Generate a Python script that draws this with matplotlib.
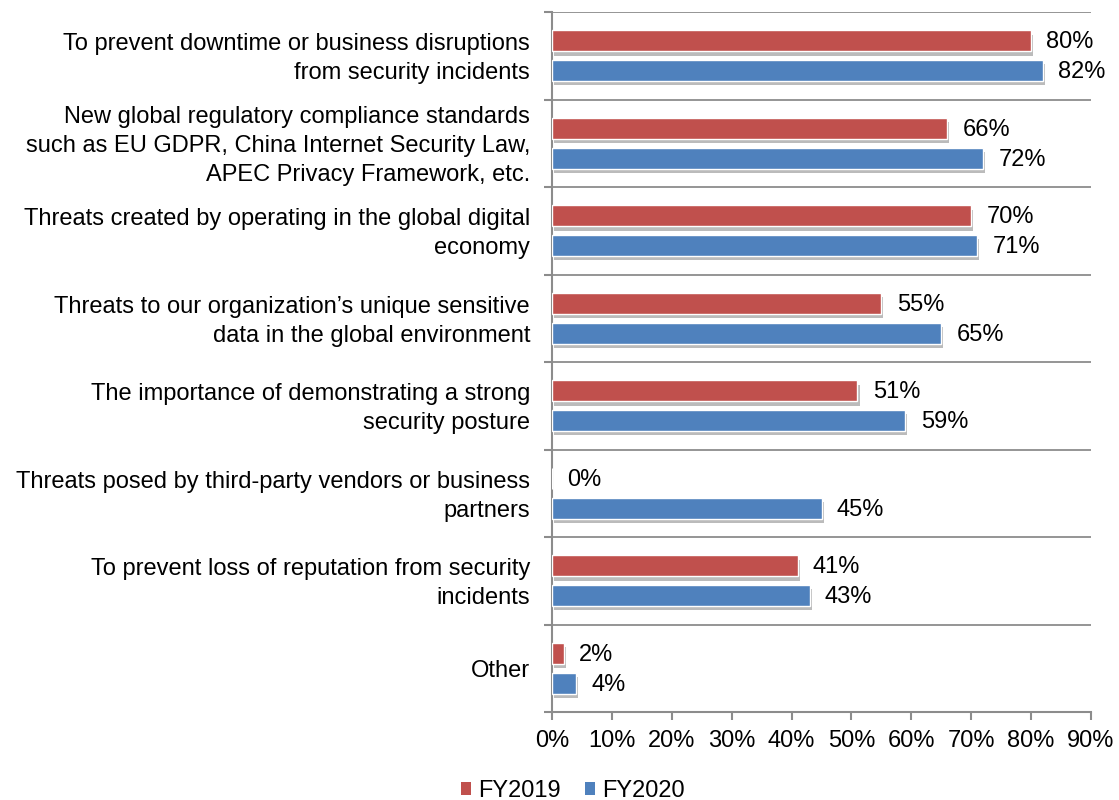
import matplotlib
matplotlib.use("Agg")
import matplotlib.pyplot as plt
import matplotlib.patheffects as pe
import matplotlib.transforms as mtransforms
from matplotlib.patches import Patch
import numpy as np

plt.rcParams['font.family'] = ['Liberation Sans', 'DejaVu Sans']

categories = [
    "To prevent downtime or business disruptions\nfrom security incidents",
    "New global regulatory compliance standards\nsuch as EU GDPR, China Internet Security Law,\nAPEC Privacy Framework, etc.",
    "Threats created by operating in the global digital\neconomy",
    "Threats to our organization\u2019s unique sensitive\ndata in the global environment",
    "The importance of demonstrating a strong\nsecurity posture",
    "Threats posed by third-party vendors or business\npartners",
    "To prevent loss of reputation from security\nincidents",
    "Other",
]
fy2019 = [80, 66, 70, 55, 51, 0, 41, 2]
fy2020 = [82, 72, 71, 65, 59, 45, 43, 4]
x_ticks = [0, 10, 20, 30, 40, 50, 60, 70, 80, 90]

RED = "#C0504D"
BLUE = "#4F81BD"
GRID = "#8C8C8C"
FS = 17

fig = plt.figure(figsize=(11.19, 8.0), dpi=100)
ax = fig.add_axes([0.4933, 0.11, 0.4817, 0.875])

y = np.arange(len(categories))
h = 0.24
off = 0.17
shadow = [pe.SimplePatchShadow(offset=(1.5, -3), shadow_rgbFace="#555555", alpha=0.4), pe.Normal()]

bars19 = ax.barh(y - off, fy2019, height=h, color=RED, edgecolor="white", linewidth=1.0, zorder=3)
bars20 = ax.barh(y + off, fy2020, height=h, color=BLUE, edgecolor="white", linewidth=1.0, zorder=3)
for b in list(bars19) + list(bars20):
    if b.get_width() > 0:
        b.set_path_effects(shadow)

for yy, v in zip(y - off, fy2019):
    ax.annotate(f"{v}%", (v, yy), xytext=(11, -1), textcoords="offset points",
                va="center", ha="left", fontsize=FS)
for yy, v in zip(y + off, fy2020):
    ax.annotate(f"{v}%", (v, yy), xytext=(11, -1), textcoords="offset points",
                va="center", ha="left", fontsize=FS)

ax.set_xlim(0, 90)
ax.set_ylim(len(categories) - 0.5, -0.5)

# category boundaries as gridlines with outward ticks on the left spine
bounds = np.arange(len(categories) + 1) - 0.5
ax.set_yticks(bounds)
ax.set_yticklabels([])
ax.tick_params(axis="y", which="major", length=6, width=1.5, color=GRID, direction="out")
for b in bounds:
    ax.axhline(b, color=GRID, linewidth=1.3, zorder=1)

# category names, right-aligned left of the axis
label_tf = ax.get_yaxis_transform() + mtransforms.ScaledTranslation(-22 / 100, -3 / 100,
                                                                    fig.dpi_scale_trans)
for yy, name in zip(y, categories):
    ax.text(0, yy, name, transform=label_tf, ha="right", va="center", multialignment="right",
            fontsize=FS, linespacing=1.4)

ax.set_xticks(x_ticks)
ax.set_xticklabels([f"{t}%" for t in x_ticks], fontsize=FS)
ax.tick_params(axis="x", length=6, width=1.5, color=GRID, direction="out", pad=7)

for s in ["top", "right"]:
    ax.spines[s].set_visible(False)
for s in ["left", "bottom"]:
    ax.spines[s].set_color(GRID)
    ax.spines[s].set_linewidth(1.5)

handles = [Patch(facecolor=RED, edgecolor="none"), Patch(facecolor=BLUE, edgecolor="none")]
fig.legend(handles=handles, labels=["FY2019", "FY2020"], loc="lower center",
           bbox_to_anchor=(0.512, -0.029), ncol=2, frameon=False, fontsize=FS,
           handlelength=0.45, handleheight=0.45, handletextpad=0.3, columnspacing=1.0)

fig.savefig("out.png", dpi=100)
